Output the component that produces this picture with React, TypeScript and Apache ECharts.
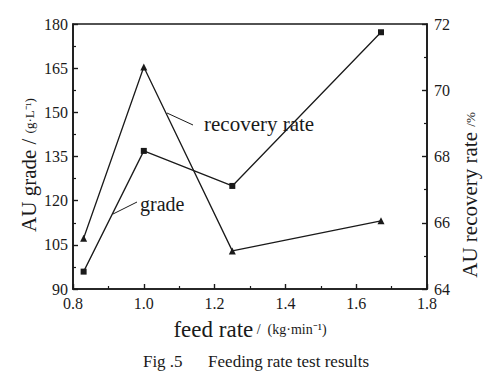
import React, { useEffect, useRef } from "react";
import * as echarts from "echarts";

const feedRate = [0.83, 1.0, 1.25, 1.67];
const grade = [95.9, 136.9, 125.0, 177.2];
const recoveryRate = [65.53, 70.7, 65.15, 66.06];
const xTicks = { min: 0.8, max: 1.8, interval: 0.2 };
const gradeTicks = { min: 90, max: 180, interval: 15 };
const recoveryTicks = { min: 64, max: 72, interval: 2 };

const FONT = "'Liberation Serif', 'Times New Roman', serif";
const INK = "#1a1a1a";

export default function App() {
  const ref = useRef<HTMLDivElement>(null);
  useEffect(() => {
    if (!ref.current) return;
    const chart = echarts.init(ref.current, undefined, { renderer: "svg" });
    const labelStyle = { color: INK, fontFamily: FONT, fontSize: 16 };
    const axisCommon = {
      axisLine: { show: true, onZero: false, lineStyle: { color: INK, width: 1.6 } },
      axisTick: { show: true, inside: true, length: 5, lineStyle: { color: INK, width: 1.4 } },
      minorTick: { show: true, splitNumber: 2, length: 3, lineStyle: { color: INK, width: 1.2 } },
      splitLine: { show: false },
      minorSplitLine: { show: false },
    };
    chart.setOption({
      animation: false,
      backgroundColor: "#ffffff",
      textStyle: { fontFamily: FONT, color: INK },
      grid: {
        left: 73,
        right: 74,
        top: 24,
        bottom: 88,
        show: true,
        borderColor: INK,
        borderWidth: 1.6,
      },
      xAxis: {
        type: "value",
        ...xTicks,
        ...axisCommon,
        axisLabel: {
          ...labelStyle,
          margin: 6,
          formatter: (v: number) => v.toFixed(1),
        },
      },
      yAxis: [
        {
          type: "value",
          position: "left",
          ...gradeTicks,
          ...axisCommon,
          axisLabel: { ...labelStyle, margin: 5 },
        },
        {
          type: "value",
          position: "right",
          ...recoveryTicks,
          ...axisCommon,
          axisLabel: { ...labelStyle, margin: 7 },
        },
      ],
      graphic: [
        {
          type: "text",
          x: 250,
          y: 329,
          style: {
            text: "{a|feed rate}{b| /  (kg·min⁻¹)}",
            align: "center",
            verticalAlign: "middle",
            rich: {
              a: { fontFamily: FONT, fontSize: 23, fill: INK },
              b: { fontFamily: FONT, fontSize: 14, fill: INK },
            },
          },
        },
        {
          type: "text",
          x: 29,
          y: 165,
          rotation: Math.PI / 2,
          style: {
            text: "{a|AU grade / }{b|(g·L⁻¹)}",
            align: "center",
            verticalAlign: "middle",
            rich: {
              a: { fontFamily: FONT, fontSize: 21, fill: INK },
              b: { fontFamily: FONT, fontSize: 13, fill: INK },
            },
          },
        },
        {
          type: "text",
          x: 470,
          y: 195,
          rotation: Math.PI / 2,
          style: {
            text: "{a|AU recovery rate }{b|/%}",
            align: "center",
            verticalAlign: "middle",
            rich: {
              a: { fontFamily: FONT, fontSize: 21, fill: INK },
              b: { fontFamily: FONT, fontSize: 13, fill: INK },
            },
          },
        },
        {
          type: "line",
          shape: { x1: 167, y1: 113, x2: 193, y2: 125 },
          style: { stroke: INK, lineWidth: 1 },
        },
        {
          type: "text",
          x: 204,
          y: 124,
          style: {
            text: "recovery rate",
            fontFamily: FONT,
            fontSize: 21,
            fill: INK,
            verticalAlign: "middle",
          },
        },
        {
          type: "line",
          shape: { x1: 113, y1: 214, x2: 137, y2: 202 },
          style: { stroke: INK, lineWidth: 1 },
        },
        {
          type: "text",
          x: 140,
          y: 204,
          style: {
            text: "grade",
            fontFamily: FONT,
            fontSize: 20,
            fill: INK,
            verticalAlign: "middle",
          },
        },
        {
          type: "text",
          x: 256,
          y: 361,
          style: {
            text: "Fig .5      Feeding rate test results",
            fontFamily: FONT,
            fontSize: 17,
            fill: INK,
            align: "center",
            verticalAlign: "middle",
          },
        },
      ],
      series: [
        {
          name: "grade",
          type: "line",
          yAxisIndex: 0,
          data: feedRate.map((x, i) => [x, grade[i]]),
          symbol: "rect",
          symbolSize: 6,
          lineStyle: { color: INK, width: 1.3 },
          itemStyle: { color: INK },
        },
        {
          name: "recovery rate",
          type: "line",
          yAxisIndex: 1,
          data: feedRate.map((x, i) => [x, recoveryRate[i]]),
          symbol: "triangle",
          symbolSize: 7,
          lineStyle: { color: INK, width: 1.3 },
          itemStyle: { color: INK },
        },
      ],
    });
    return () => chart.dispose();
  }, []);
  return (
    <div
      ref={ref}
      style={{ position: "fixed", left: 0, top: 0, width: 501, height: 377, background: "#fff" }}
    />
  );
}
